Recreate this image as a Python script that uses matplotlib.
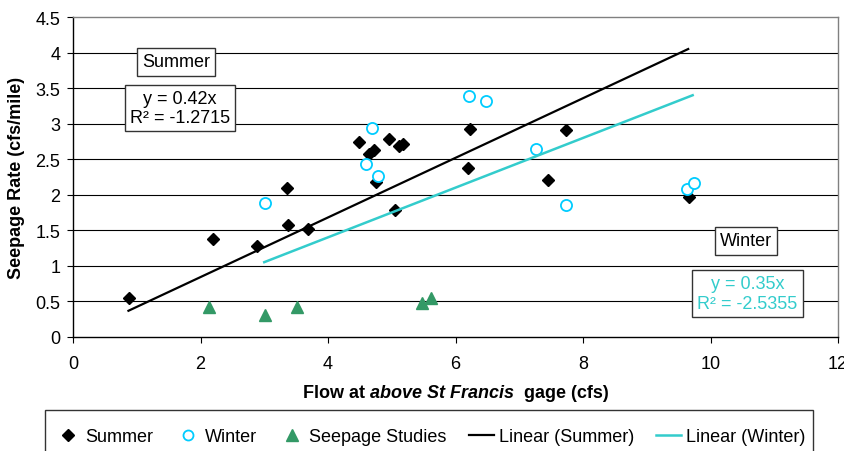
import matplotlib
matplotlib.use('Agg')
import matplotlib.pyplot as plt
from matplotlib.patches import Rectangle

plt.rcParams['font.family'] = ['Liberation Sans', 'DejaVu Sans']
plt.rcParams['font.size'] = 13

# ---------------- data ----------------
summer_x = [0.88, 2.20, 2.88, 3.36, 3.38, 3.69, 4.49, 4.64, 4.72, 4.75, 4.95,
            5.12, 5.18, 5.05, 6.22, 6.20, 7.45, 7.73, 9.66]
summer_y = [0.55, 1.37, 1.28, 2.10, 1.57, 1.52, 2.74, 2.57, 2.63, 2.18, 2.79,
            2.69, 2.72, 1.78, 2.93, 2.38, 2.21, 2.91, 1.97]
winter_x = [3.01, 4.69, 4.60, 4.78, 6.21, 6.48, 7.26, 7.74, 9.63, 9.74]
winter_y = [1.89, 2.94, 2.43, 2.27, 3.39, 3.32, 2.65, 1.86, 2.08, 2.17]
seep_x = [2.13, 3.01, 3.51, 5.47, 5.62]
seep_y = [0.42, 0.30, 0.42, 0.48, 0.54]

summer_slope = 0.42
summer_fit_x = [0.87, 9.65]
winter_slope = 0.35
winter_fit_x = [3.0, 9.72]

x_ticks = [0, 2, 4, 6, 8, 10, 12]
y_ticks = [0, 0.5, 1, 1.5, 2, 2.5, 3, 3.5, 4, 4.5]
y_tick_labels = ['0', '0.5', '1', '1.5', '2', '2.5', '3', '3.5', '4', '4.5']

summer_label = 'Summer'
summer_eq = 'y = 0.42x\nR² = -1.2715'
winter_label = 'Winter'
winter_eq = 'y = 0.35x\nR² = -2.5355'

# ---------------- styles ----------------
BLACK = '#000000'
CYAN_LINE = '#33CCCC'
CIRCLE = '#00CCFF'
GREEN = '#339966'

W, H = 844, 452
fig = plt.figure(figsize=(W / 100, H / 100), dpi=100)
fig.patch.set_facecolor('white')

def px(x, y):
    return x / W, 1 - y / H

ax_left, ax_right, ax_top, ax_bottom = 73, 838, 18.3, 337.7
ax = fig.add_axes([ax_left / W, 1 - ax_bottom / H, (ax_right - ax_left) / W,
                   (ax_bottom - ax_top) / H])

ax.set_xlim(0, 12)
ax.set_ylim(0, 4.5)
ax.set_xticks(x_ticks)
ax.set_xticklabels([str(t) for t in x_ticks])
ax.set_yticks(y_ticks)
ax.set_yticklabels(y_tick_labels)

ax.set_axisbelow(True)
ax.yaxis.grid(True, color=BLACK, lw=0.8)
gl = ax.get_ygridlines()
gl[0].set_visible(False)
gl[-1].set_visible(False)

for s in ['top', 'right']:
    ax.spines[s].set_color('#808080')
    ax.spines[s].set_linewidth(1.0)
for s in ['left', 'bottom']:
    ax.spines[s].set_color(BLACK)
    ax.spines[s].set_linewidth(1.0)

ax.tick_params(axis='both', direction='out', length=4, width=0.8, labelsize=13)
ax.tick_params(axis='x', pad=9.5)
ax.tick_params(axis='y', pad=5)

# data series
h_sum, = ax.plot(summer_x, summer_y, linestyle='none', marker='D', ms=6.3,
                 color=BLACK, label='Summer', zorder=3)
h_win, = ax.plot(winter_x, winter_y, linestyle='none', marker='o', ms=8,
                 mfc='white', mec=CIRCLE, mew=1.3, label='Winter', zorder=4)
h_seep, = ax.plot(seep_x, seep_y, linestyle='none', marker='^', ms=9,
                  color=GREEN, label='Seepage Studies', zorder=3)

sfx = summer_fit_x
h_ls, = ax.plot(sfx, [summer_slope * v for v in sfx], color=BLACK, lw=1.6,
                label='Linear (Summer)', zorder=5)
wfx = winter_fit_x
h_lw, = ax.plot(wfx, [winter_slope * v for v in wfx], color=CYAN_LINE, lw=1.8,
                label='Linear (Winter)', zorder=5)

# annotation boxes
box_kw = dict(boxstyle='square,pad=0.28', fc='white', ec='#333333', lw=1.0)
fig.text(*px(176, 63), summer_label, ha='center', va='center', fontsize=13,
         bbox=box_kw, zorder=10)
fig.text(*px(180, 109), summer_eq, ha='center', va='center', fontsize=13,
         linespacing=1.2, bbox=box_kw, zorder=10)
fig.text(*px(745.7, 242), winter_label, ha='center', va='center', fontsize=13,
         bbox=box_kw, zorder=10)
fig.text(*px(747.5, 294.5), winter_eq, ha='center', va='center', fontsize=13,
         color=CYAN_LINE, linespacing=1.2, bbox=box_kw, zorder=10)

# y label
fig.text(*px(17, 178), 'Seepage Rate (cfs/mile)', rotation=90, ha='center',
         va='center', fontsize=13, fontweight='bold')

# x label with mixed styles
fig.canvas.draw()
r = fig.canvas.get_renderer()
parts = [('Flow at', 'normal'), ('above St Francis', 'italic'), ('gage (cfs)', 'normal')]
tmp = []
for s, st in parts:
    t = fig.text(0, 0, s, fontsize=13, fontweight='bold', fontstyle=st)
    tmp.append(t)
t1 = fig.text(0, 0, 'x x', fontsize=13, fontweight='bold')
t2 = fig.text(0, 0, 'xx', fontsize=13, fontweight='bold')
widths = [t.get_window_extent(r).width for t in tmp]
space = t1.get_window_extent(r).width - t2.get_window_extent(r).width
t1.remove(); t2.remove()
gaps = [space, 2 * space]
total = sum(widths) + sum(gaps)
x0 = (ax_left + ax_right) / 2 - total / 2
cx = x0
for i, t in enumerate(tmp):
    t.set_position(px(cx, 394))
    t.set_va('center')
    cx += widths[i]
    if i < len(gaps):
        cx += gaps[i]

# legend frame and legend
fig.patches.append(Rectangle(px(45, 480), (812.7 - 45) / W, (480 - 411) / H,
                             transform=fig.transFigure, fc='white', ec='#333333',
                             lw=1.0, zorder=0))
leg = fig.legend(handles=[h_sum, h_win, h_seep, h_ls, h_lw], loc='center left',
                 bbox_to_anchor=px(55, 438), ncol=5, frameon=False, fontsize=13,
                 handlelength=1.4, handletextpad=0.28, columnspacing=1.2,
                 borderpad=0, borderaxespad=0, markerscale=0.9)

fig.savefig('out.png', dpi=100)
